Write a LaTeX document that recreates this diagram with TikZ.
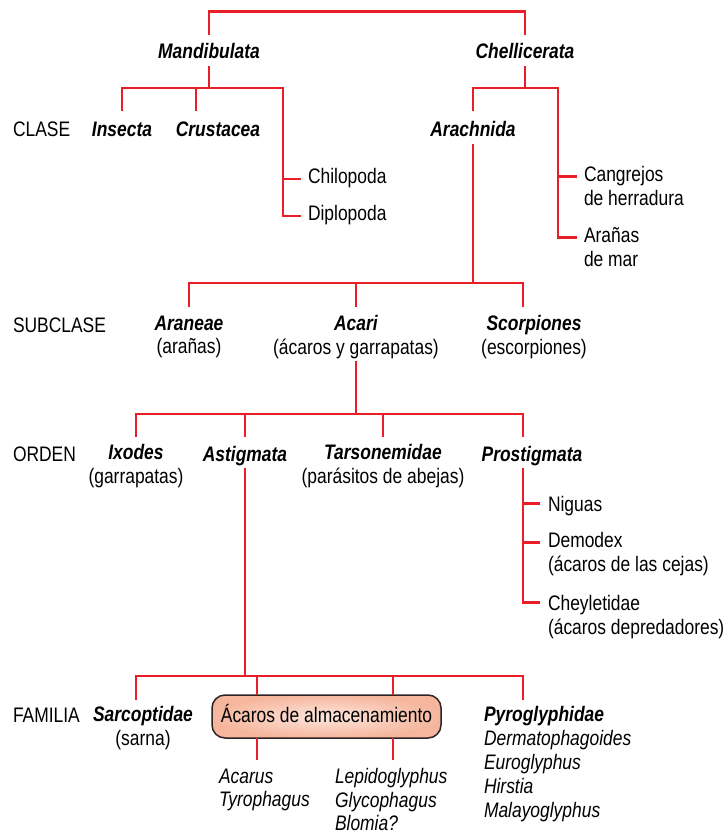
\documentclass[tikz,border=0pt]{standalone}
\usepackage{fontspec}
\setmainfont{Liberation Sans}[FakeStretch=0.83]
\definecolor{branch}{RGB}{234,30,38}
\definecolor{boxfillin}{RGB}{253,230,220}
\definecolor{boxfillout}{RGB}{246,182,158}
\definecolor{boxline}{RGB}{45,35,35}
\def\H{16.45}
\begin{document}
\begin{tikzpicture}[x=1pt,y=-1pt,
  every node/.style={font=\fontsize{21}{23.5}\selectfont, inner sep=0pt, outer sep=0pt,
    execute at begin node=\strut},
  ctr/.style={anchor=north, align=center},
  lft/.style={anchor=north west, align=left},
  taxon/.style={font=\fontsize{21}{23.5}\selectfont\bfseries\itshape},
  br/.style={draw=branch, line width=2.2pt},
  storebox/.style={draw=boxline, line width=1.5pt, rounded corners=13pt,
    inner color=boxfillin, outer color=boxfillout,
    minimum width=229pt, minimum height=43pt, anchor=center}]
\useasboundingbox (0,0) rectangle (726,834);

% rank labels
\node[lft] (clase)    at (13,137-\H) {CLASE};
\node[lft] (subclase) at (13,332-\H) {SUBCLASE};
\node[lft] (orden)    at (13,461-\H) {ORDEN};
\node[lft] (familia)  at (13,722-\H) {FAMILIA};

% top level
\node[ctr,taxon] (mand) at (209,59-\H) {Mandibulata};
\node[ctr,taxon] (chel) at (525,59-\H) {Chellicerata};

% classes
\node[ctr,taxon] (ins)   at (122,137-\H) {Insecta};
\node[ctr,taxon] (crus)  at (218,137-\H) {Crustacea};
\node[ctr,taxon] (arach) at (473,137-\H) {Arachnida};
\node[lft] (chil) at (308,184-\H) {Chilopoda};
\node[lft] (dipl) at (308,221-\H) {Diplopoda};
\node[lft] (cang) at (584,183-\H) {Cangrejos\\de herradura};
\node[lft] (aran) at (584,244-\H) {Arañas\\de mar};

% subclasses
\node[ctr] (araneae) at (189,332-\H) {\textbf{\textit{Araneae}}\\(arañas)};
\node[ctr] (acari)   at (356,332-\H) {\textbf{\textit{Acari}}\\(ácaros y garrapatas)};
\node[ctr] (scor)    at (534,332-\H) {\textbf{\textit{Scorpiones}}\\(escorpiones)};

% orders
\node[ctr] (ixo)   at (136,461-\H) {\textbf{\textit{Ixodes}}\\(garrapatas)};
\node[ctr,taxon] (astig) at (245,461-\H) {Astigmata};
\node[ctr] (tars)  at (383,461-\H) {\textbf{\textit{Tarsonemidae}}\\(parásitos de abejas)};
\node[ctr,taxon] (prost) at (532,461-\H) {Prostigmata};
\node[lft] (nig)  at (548,511-\H) {Niguas};
\node[lft] (demo) at (548,549-\H) {Demodex\\(ácaros de las cejas)};
\node[lft] (chey) at (548,612-\H) {Cheyletidae\\(ácaros depredadores)};

% families
\node[ctr] (sarc) at (143,723-\H) {\textbf{\textit{Sarcoptidae}}\\(sarna)};
\node[storebox] (box) at (326.5,716.5) {Ácaros de almacenamiento};
\node[lft,font=\fontsize{21}{23.5}\selectfont\itshape] (acar) at (219,785-\H) {Acarus\\Tyrophagus};
\node[lft,font=\fontsize{21}{23.5}\selectfont\itshape] (lepi) at (335,785-\H) {Lepidoglyphus\\Glycophagus\\Blomia?};
\node[lft,font=\fontsize{21}{24}\selectfont\itshape] (pyro) at (484,723-\H)
  {\textbf{Pyroglyphidae}\\Dermatophagoides\\Euroglyphus\\Hirstia\\Malayoglyphus};

% root bar
\draw[br] ([yshift=8pt]mand.north) -- ++(0,-23) -| ([yshift=8pt]chel.north);

% Mandibulata
\draw[br] (mand.south) -- ++(0,22);
\coordinate (mbar) at (283,88);
\draw[br] ([yshift=10pt]ins.north) |- (mbar) |- ([xshift=-7pt]dipl.west);
\draw[br] ([shift={(-22,-10)}]crus.north) |- (mbar);
\draw[br] ([xshift=-7pt]chil.west) -| (mbar);

% Chellicerata
\draw[br] (chel.south) -- ++(0,22);
\coordinate (cbar) at (558,88);
\draw[br] ([yshift=10pt]arach.north) |- (cbar) |- ([shift={(-7,10)}]aran.north west);
\draw[br] ([shift={(-7,10)}]cang.north west) -| (cbar);

% Arachnida
\draw[br] (arach.south) -- ++(0,139) coordinate (abar);
\draw[br] ([yshift=9pt]araneae.north) |- (abar) -| ([shift={(-11,-9)}]scor.north);
\draw[br] ([yshift=9pt]acari.north) -- (acari.north |- abar);

% Acari
\draw[br] (acari.south) -- ++(0,53) coordinate (obar);
\draw[br] ([yshift=8pt]ixo.north) |- (obar) -| ([shift={(-9,-8)}]prost.north);
\draw[br] ([yshift=8pt]astig.north) -- (astig.north |- obar);
\draw[br] ([yshift=8pt]tars.north) -- (tars.north |- obar);

% Prostigmata
\draw[br] ([xshift=-9pt]prost.south) |- ([shift={(-8,7)}]chey.north west);
\draw[br] ([shift={(-8,9)}]nig.north west) -| ([xshift=-9pt]prost.south);
\draw[br] ([shift={(-8,10)}]demo.north west) -| ([xshift=-9pt]prost.south);

% Astigmata
\draw[br] (astig.south) -- ++(0,208) coordinate (fbar);
\draw[br] ([shift={(-7,-7)}]sarc.north) |- (fbar) -| ([shift={(39,-7)}]pyro.north west);
\draw[br] ([xshift=-69.5pt]box.north) |- (fbar);
\draw[br] ([xshift=66.5pt]box.north) |- (fbar);
\draw[br] ([xshift=-69.5pt]box.south) -- ++(0,22);
\draw[br] ([xshift=66.5pt]box.south) -- ++(0,22);
\end{tikzpicture}
\end{document}
